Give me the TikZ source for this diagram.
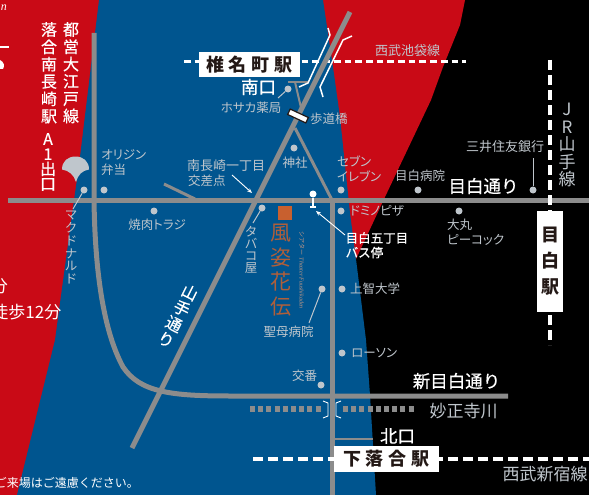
\documentclass[tikz,border=0pt]{standalone}
\usepackage{fontspec}
\setmainfont{Noto Sans CJK JP}
\newfontfamily\latinserif{Liberation Serif}
\newfontfamily\jpprop{Noto Sans CJK JP}[RawFeature={+palt}]
\newfontfamily\jpmed{Noto Sans CJK JP}[FakeBold=0.45]
\usetikzlibrary{arrows.meta}
\definecolor{mapred}{HTML}{C90A16}
\definecolor{mapblue}{HTML}{00558F}
\definecolor{roadgrey}{HTML}{8C8C8C}
\definecolor{lblgrey}{HTML}{BFC6CC}
\definecolor{ink}{HTML}{231815}
\definecolor{orangeink}{HTML}{C8602F}
\tikzset{
  road/.style={draw=roadgrey,line width=#1},
  road/.default=5pt,
  railh/.style={draw=white,line width=3pt,dash pattern=on 6.7pt off 4pt},
  railw/.style={draw=white,line width=4pt,dash pattern=on 10pt off 5pt},
  river/.style={draw=roadgrey,line width=6.5pt,dash pattern=on 5pt off 3.2pt},
  whitethin/.style={draw=white,line width=1.5pt},
  leader/.style={draw=lblgrey,line width=1pt},
  callout/.style={draw=white,line width=0.9pt,-{Stealth[length=5pt,width=4pt]}},
  spot/.style={circle,fill=lblgrey,inner sep=0pt,minimum size=7pt},
  lbl/.style={inner sep=0pt,text=lblgrey,font=\jpprop\fontsize{12.5}{15}\selectfont,align=left},
  vlbl/.style={inner sep=0pt,text=lblgrey,align=center,font=\fontsize{12.5}{#1}\selectfont},
  vlbl/.default=13,
  bigw/.style={inner sep=0pt,text=white,font=\jpmed\fontsize{17.5}{20}\selectfont},
  bigg/.style={inner sep=0pt,text=lblgrey,font=\fontsize{17}{20}\selectfont},
  wtext/.style={inner sep=0pt,text=white,font=\jpmed\fontsize{12.5}{14.5}\selectfont,align=left},
  station/.style={fill=white,text=ink,inner sep=0pt,font=\fontsize{18}{26}\bfseries\selectfont,align=center},
  colw/.style={inner sep=0pt,text=white,align=center,font=\jpmed\fontsize{16}{#1}\selectfont,anchor=north},
}
\begin{document}
\begin{tikzpicture}[x=1pt,y=-1pt]
\useasboundingbox (0,0) rectangle (589,495);
\clip (0,0) rectangle (589,495);
% regions
\fill[black] (0,0) rectangle (589,495);
\fill[mapred] (0,0) -- (465,0) -- (460,25) -- (443,67) -- (431,100) -- (385,197) -- (350,272) -- (350,495) -- (0,495) -- cycle;
\fill[mapblue] (99,0) -- (79,165) -- (74,200) -- (60,303) -- (55,340) -- (17,495) -- (376,495) -- (370,395) -- (366,340) -- (357,267) -- (350,213) -- (345,165) -- (340,117) -- (333,67) -- (323,0) -- cycle;
% Seibu Ikebukuro line under the roads
\draw[railh] (184,62) -- (466,62);
% roads
\draw[road] (94,33) -- (94,200) .. controls (95,270) and (103,330) .. (123,367) .. controls (140,392) and (170,396) .. (230,396) -- (508,396);
\draw[road] (8,200) -- (589,200);
\draw[road] (132,448) -- (350,12);
\draw[road] (332,198) -- (332,495);
\draw[road=3pt] (295,128) -- (332,200);
\draw[road=3pt] (164,184) -- (195,199);
\draw[road=2pt] (302,112) -- (295,82);
\draw[road=2pt] (288,82) -- (308,82);
\draw[road=2pt] (332,439) -- (373,439);
% Shiina-machi platform lines
\draw[whitethin] (328,28) -- (330,35) -- (308,83) -- (299,87);
\draw[whitethin] (352,36) -- (343,40) -- (320,87) -- (323,97);
% footbridge
\node[name=bridge,draw=ink,fill=white,line width=1.2pt,minimum width=20pt,minimum height=6pt,inner sep=0pt,rotate=-25] at (298,116) {};
\node[lbl,anchor=west] (lblbridge) at (310,119) {歩道橋};
% rivers
\draw[river] (250,409) -- (321,409);
\draw[river] (343,409) -- (416,409);
\draw[draw=white,line width=.9pt] (323,401) -- (328,403) -- (328,416) -- (323,418);
\draw[draw=white,line width=.9pt] (341,401) -- (336,403) -- (336,416) -- (341,418);
% rail lines
\draw[railw] (253,459) -- (589,459);
\draw[railw] (550,60) -- (550,345);
% stations
\node[station,minimum width=101pt,minimum height=25pt] (stShiina) at (249.5,64.5) {椎\hspace{5pt}名\hspace{5pt}町\hspace{5pt}駅};
\node[station,minimum width=105pt,minimum height=26pt] (stShimo) at (386.5,459) {下\hspace{5pt}落\hspace{5pt}合\hspace{5pt}駅};
\node[station,minimum width=26pt,minimum height=101pt] (stMejiro) at (550,261.5) {目\\白\\駅};
% line names
\node[bigw] (nMinami) at (258.5,87) {南口};
\node[bigw] (nKita) at (397.5,436) {北口};
\node[bigw] (nMejiroSt) at (483.5,186) {目白通り};
\node[bigw] (nShinMejiro) at (456.5,381) {新目白通り};
\node[bigg] (nMyosho) at (463.5,411) {妙正寺川};
\node[bigg] (nShinjuku) at (545,474) {西武新宿線};
\node[inner sep=0pt,text=lblgrey,font=\fontsize{13}{15}\selectfont] (nIkebukuro) at (407.5,51) {西武池袋線};
\node[inner sep=0pt,text=lblgrey,align=center,font=\fontsize{17}{17.5}\selectfont] (nJR) at (567,145) {J\\R\\山\\手\\線};
\node[inner sep=0pt,text=white,align=center,font=\jpmed\fontsize{16}{17.6}\selectfont,rotate=-26.6] (nYamate) at (178,316) {山\\手\\通\\り};
% left column
\node[colw=17.3] (nOedo) at (71,22) {都\\営\\大\\江\\戸\\線};
\node[colw=17.3] (nOchiai) at (49,22) {落\\合\\南\\長\\崎\\駅};
\node[colw=15] (nExit) at (48,133) {A\\1\\出\\口};
% ginkgo
\fill[lblgrey] (62,169.5) .. controls (62,161) and (68,156.5) .. (75.5,156.5) .. controls (83,156.5) and (89,161) .. (89,169.5) .. controls (82,170.5) and (78,175) .. (76,182) .. controls (74,175) and (69,170.5) .. (62,169.5) -- cycle;
% point labels
\node[spot] (dMac) at (84,190) {};
\coordinate (eMac) at (73,209);
\draw[leader] (dMac) -- (eMac);
\node[vlbl=12.8,anchor=north] (lMac) at (71,211) {マ\\ク\\ド\\ナ\\ル\\ド};
\node[spot] (dOrigin) at (104,190) {};
\node[lbl,anchor=north west] (lOrigin) at (101,149) {オリジン\\弁当};
\node[spot] (dYaki) at (154,211) {};
\node[lbl,anchor=center] (lYaki) at (157,224.5) {焼肉トラジ};
\node[lbl,anchor=north west] (lCross) at (187,159) {\fontsize{13}{16}\selectfont 南長崎一丁目\\[0pt]\hspace{1pt}交差点};
\coordinate (eCross) at (252,193);
\coordinate (sCross) at (232,175);
\draw[callout] (sCross) -- (eCross);
\node[spot] (dHosaka) at (288,89) {};
\coordinate (eHosaka) at (278,98);
\draw[leader] (dHosaka) -- (eHosaka);
\node[lbl,anchor=center] (lHosaka) at (251,108) {ホサカ薬局};
\node[spot] (dJinja) at (294,148) {};
\node[lbl,anchor=center] (lJinja) at (295,163) {神社};
\node[spot] (dSeven) at (341,190) {};
\node[lbl,anchor=north west] (lSeven) at (337,155.5) {セブン\\イレブン};
\node[spot] (dHosp) at (418,190) {};
\node[lbl,anchor=center] (lHosp) at (420,176) {目白病院};
\node[spot] (dMitsui) at (533,190) {};
\coordinate (eMitsui) at (533,158);
\draw[leader] (dMitsui) -- (eMitsui);
\node[lbl,anchor=center,font=\fontsize{13}{15}\selectfont] (lMitsui) at (505,147) {三井住友銀行};
\node[spot] (dDomino) at (341,211) {};
\node[lbl,anchor=west] (lDomino) at (350,211) {ドミノピザ};
\node[spot] (dDaimaru) at (459,211) {};
\node[lbl,anchor=north west] (lDaimaru) at (447,219) {大丸\\ピーコック};
\node[spot] (dTabako) at (262,208) {};
\coordinate (eTabako) at (253,223);
\draw[leader] (dTabako) -- (eTabako);
\node[vlbl=12,anchor=north] (lTabako) at (251,226) {タ\\バ\\コ\\屋};
\node[spot] (dSeibo) at (322,289) {};
\coordinate (eSeibo) at (309,323);
\draw[leader] (dSeibo) -- (eSeibo);
\node[lbl,anchor=center] (lSeibo) at (288.5,332) {聖母病院};
\node[spot] (dJochi) at (342,289) {};
\node[lbl,anchor=west] (lJochi) at (350,289) {上智大学};
\node[spot] (dLawson) at (342,353) {};
\node[lbl,anchor=west] (lLawson) at (351,353) {ローソン};
\node[spot] (dKoban) at (321,385) {};
\node[lbl,anchor=center] (lKoban) at (304.5,376) {交番};
% bus stop
\node[circle,fill=white,inner sep=0pt,minimum size=7pt] (busTop) at (313,194) {};
\coordinate (busBase) at (313,207);
\draw[draw=white,line width=1.8pt] (busTop) -- (busBase);
\draw[draw=white,line width=1.3pt] (310,207) -- (316,207);
\node[wtext,anchor=north west] (lBus) at (345.5,232) {目白五丁目\\バス停};
\coordinate (eBus) at (316,211);
\coordinate (sBus) at (345,235);
\draw[callout] (sBus) -- (eBus);
% theatre
\fill[orangeink] (278,206) rectangle (292,220);
\node[inner sep=0pt,text=orangeink!88!mapblue,align=center,font=\fontsize{21}{24.6}\selectfont,anchor=north] (lFushi) at (281,224) {風\\姿\\花\\伝};
\node[inner sep=0pt,text=lblgrey!55!orangeink,rotate=-90,font=\fontsize{6}{7}\selectfont] (lTheatre) at (302,270) {シアター\ \ {\latinserif\itshape Theater Fuushikaden}};
% cut-off fragments at the left edge
\node[inner sep=0pt,text=white,font=\latinserif\itshape\fontsize{12}{14}\selectfont] (fragN) at (4,8) {n};
\fill[white] (0,46.2) rectangle (9,47.6);
\fill[white] (0,60) .. controls (4,62) and (5,66) .. (3,69) -- (0,69) -- cycle;
\node[inner sep=0pt,text=white,anchor=east,font=\fontsize{17}{20}\selectfont] (fragFun) at (8,286) {分};
\node[inner sep=0pt,text=white,anchor=east,font=\fontsize{17}{20}\selectfont] (fragWalk) at (61.5,312.5) {徒歩12分};
\node[inner sep=0pt,text=white,anchor=east,font=\fontsize{12}{14}\selectfont] (fragNote) at (139,482.5) {ご来場はご遠慮ください。};
\end{tikzpicture}
\end{document}
